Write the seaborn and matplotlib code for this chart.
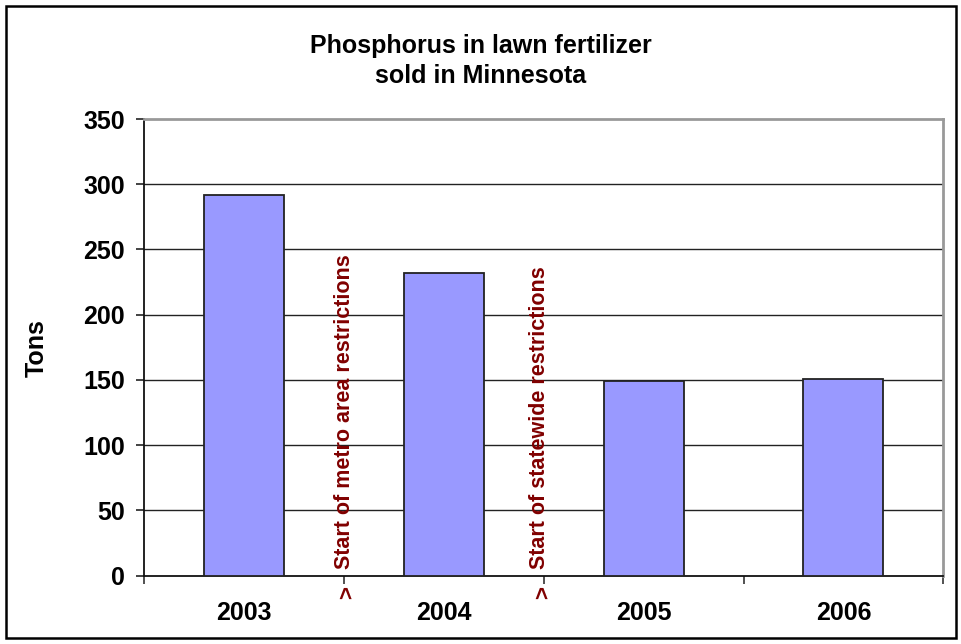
import matplotlib
matplotlib.use("Agg")
import matplotlib.pyplot as plt
import matplotlib.patches as mpatches
import matplotlib.transforms as mtransforms
import seaborn as sns
import pandas as pd

years = ["2003", "2004", "2005", "2006"]
tons = [292, 232, 149, 151]
y_ticks = [0, 50, 100, 150, 200, 250, 300, 350]
notes = ["Start of metro area restrictions", "Start of statewide restrictions"]
note_positions = [0.5, 1.48]

sns.set_theme(style="white")
plt.rcParams["font.family"] = ["Liberation Sans", "DejaVu Sans"]
plt.rcParams["font.weight"] = "bold"
plt.rcParams["text.color"] = "black"
plt.rcParams["xtick.labelcolor"] = "black"
plt.rcParams["ytick.labelcolor"] = "black"

df = pd.DataFrame({"Year": years, "Tons": tons})

fig = plt.figure(figsize=(9.61, 6.44), dpi=100)
ax = fig.add_axes([0.1502, 0.1061, 0.8314, 0.7091])

sns.barplot(data=df, x="Year", y="Tons", color="#9999FF", width=0.4,
            edgecolor="#222222", linewidth=1.3, saturation=1, ax=ax, zorder=3)

ax.set_xlim(-0.5, 3.5)
ax.set_ylim(0, 350)
ax.set_yticks(y_ticks)
ax.set_yticklabels([str(v) for v in y_ticks], fontsize=18, fontweight="bold", color="black")
ax.set_xticks(range(len(years)))
ax.set_xticklabels(years, fontsize=18, fontweight="bold", color="black")
ax.set_xticks([-0.5, 0.5, 1.5, 2.5, 3.5], minor=True)
ax.tick_params(axis="x", which="major", length=0, pad=18)
ax.tick_params(axis="x", which="minor", length=6, width=1.2, color="#333333", bottom=True)
ax.tick_params(axis="y", which="major", length=6, width=1.2, color="#222222", pad=8, left=True)
ax.set_xlabel("")
ax.set_ylabel("")

for v in y_ticks[1:-1]:
    ax.axhline(v, color="#222222", lw=1.0, zorder=1)

for s in ["left", "bottom"]:
    ax.spines[s].set_color("#111111")
    ax.spines[s].set_linewidth(1.3)
for s in ["top", "right"]:
    ax.spines[s].set_color("#999999")
    ax.spines[s].set_linewidth(2)

trans = mtransforms.blended_transform_factory(ax.transData, ax.transAxes)
for note, xp in zip(notes, note_positions):
    ax.text(xp, 5, note, rotation=90, ha="center", va="bottom",
            fontsize=15.5, fontweight="bold", color="#800000", zorder=4)
    ax.text(xp + 0.02, -0.037, ">", rotation=90, ha="center",
            va="center", fontsize=16, fontweight="bold", color="#800000",
            transform=trans, clip_on=False)

fig.text(0.5, 0.905, "Phosphorus in lawn fertilizer\nsold in Minnesota",
         ha="center", va="center", fontsize=18, fontweight="bold",
         linespacing=1.3, color="black")
fig.text(37 / 961, 1 - 348 / 644, "Tons", rotation=90, ha="center", va="center",
         fontsize=18, fontweight="bold", color="black")

border = mpatches.Rectangle((6 / 961, 6 / 644), 950 / 961, 632 / 644,
                            transform=fig.transFigure, fill=False,
                            edgecolor="black", linewidth=1.8)
fig.patches.append(border)

fig.savefig("out.png", dpi=100)
